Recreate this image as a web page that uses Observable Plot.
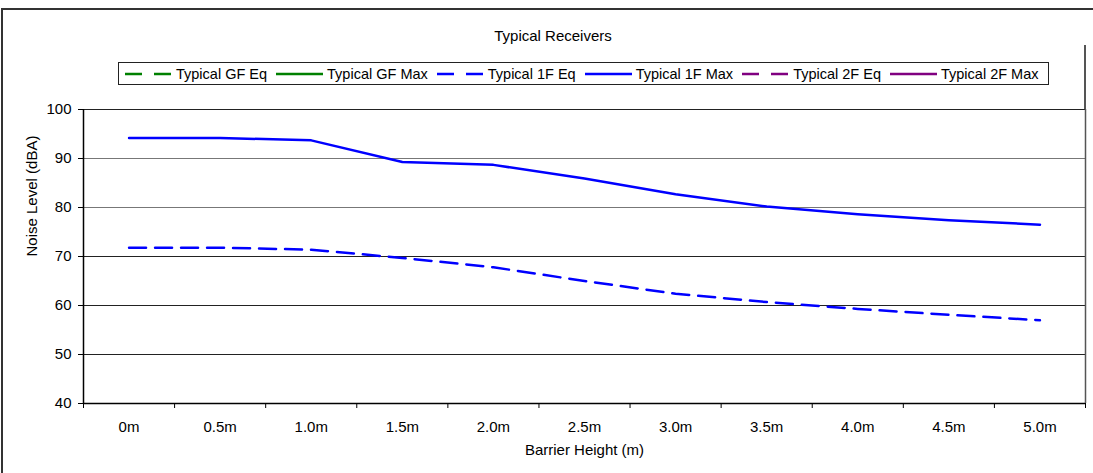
<!DOCTYPE html>
<html><head><meta charset="utf-8">
<script src="https://cdn.jsdelivr.net/npm/d3@7"></script>
<script src="https://cdn.jsdelivr.net/npm/@observablehq/plot@0.6"></script>
<style>
body{margin:0;background:#fff;font-family:"Liberation Sans",Arial,sans-serif;color:#000;}
#wrap{position:relative;width:1093px;height:473px;overflow:hidden;background:#fff;}
#outer{position:absolute;left:1px;top:8px;width:1200px;height:600px;border-left:2px solid #333;border-top:2px solid #333;}
#rightline{position:absolute;left:1084px;top:45px;width:2px;height:64px;background:#555;}
#title{position:absolute;left:0;width:1106px;top:27px;text-align:center;font-size:15px;}
#legend{position:absolute;left:118px;top:62px;width:931px;height:23px;border:1px solid #222;display:flex;align-items:center;font-size:14.5px;box-sizing:border-box;padding-left:6px;}
.item{display:flex;align-items:center;margin-right:9px;white-space:nowrap;}
.item svg{margin-right:4px;}
#chart{position:absolute;left:0;top:95px;}
</style></head>
<body><div id="wrap"><div id="outer"></div><div id="title"></div><div id="legend"></div><div id="rightline"></div><div id="chart"></div></div>
<script>
const chartTitle = "Typical Receivers";
const categories = ["0m","0.5m","1.0m","1.5m","2.0m","2.5m","3.0m","3.5m","4.0m","4.5m","5.0m"];
const yTicks = [40,50,60,70,80,90,100];
const typicalGFEq = [];
const typicalGFMax = [];
const typical1FEq = [71.8,71.8,71.4,69.7,67.8,65.0,62.4,60.7,59.3,58.1,57.0];
const typical1FMax = [94.2,94.2,93.7,89.3,88.7,85.9,82.7,80.2,78.6,77.4,76.5];
const typical2FEq = [];
const typical2FMax = [];
const seriesNames = ["Typical GF Eq","Typical GF Max","Typical 1F Eq","Typical 1F Max","Typical 2F Eq","Typical 2F Max"];
const seriesColors = ["#008000","#008000","#0000FF","#0000FF","#800080","#800080"];
const seriesDashed = [true,false,true,false,true,false];
const seriesValues = [typicalGFEq,typicalGFMax,typical1FEq,typical1FMax,typical2FEq,typical2FMax];
const dash = "17,9";
const fs = 15;

document.getElementById("title").textContent = chartTitle;
const legend = document.getElementById("legend");
seriesNames.forEach((name,k)=>{
  const it = document.createElement("div"); it.className="item";
  it.innerHTML = `<svg width="47" height="10"><line x1="0" x2="47" y1="5" y2="5" stroke="${seriesColors[k]}" stroke-width="2.5" ${seriesDashed[k]?`stroke-dasharray="17,12"`:""}/></svg><span>${name}</span>`;
  legend.appendChild(it);
});

const idx = categories.map((_,i)=>i);
const bounds = d3.range(-0.5, categories.length, 1);
const lineMarks = seriesValues.map((vals,k)=>Plot.line(vals.map((v,i)=>({i, v})), {
  x:"i", y:"v", stroke: seriesColors[k], strokeWidth: 2.5,
  strokeDasharray: seriesDashed[k] ? dash : null
}));

const plot = Plot.plot({
  width:1093, height:378,
  marginTop:14, marginBottom:70, marginLeft:83, marginRight:8,
  style:{fontFamily:"'Liberation Sans', Arial, sans-serif", fontSize:fs+"px", color:"#000", background:"transparent"},
  x:{type:"linear", domain:[-0.5, categories.length-0.5]},
  y:{domain:[40,100]},
  marks:[
    Plot.ruleY(yTicks, {stroke: d => (d===80||d===90) ? "#777" : "#222", strokeWidth:1}),
    Plot.ruleX([-0.5], {stroke:"#000", strokeWidth:1.5}),
    Plot.ruleX([categories.length-0.5], {stroke:"#555", strokeWidth:1.5}),
    Plot.ruleY([40], {stroke:"#000", strokeWidth:1.5}),
    Plot.axisY({ticks:yTicks, tickSize:5, tickPadding:7, label:null, stroke:"#000", fontSize:fs}),
    Plot.axisX({ticks:idx, tickFormat:i=>categories[i], tickSize:0, tickPadding:18, label:null, fontSize:fs}),
    Plot.axisX({ticks:bounds, tickFormat:()=>"", tickSize:5, label:null, stroke:"#000"}),
    ...lineMarks,
    Plot.text(["Noise Level (dBA)"], {frameAnchor:"left", rotate:-90, dx:-51, fontSize:fs}),
    Plot.text(["Barrier Height (m)"], {frameAnchor:"bottom", dy:51, fontSize:fs})
  ]
});
document.getElementById("chart").appendChild(plot);
</script></body></html>
